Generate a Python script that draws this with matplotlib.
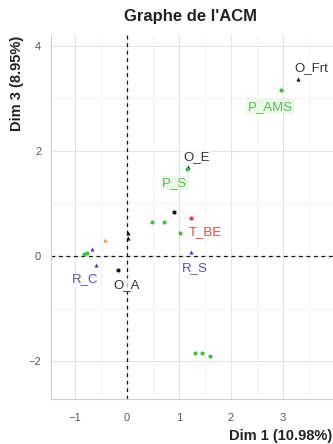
import matplotlib
matplotlib.use("Agg")
import matplotlib.pyplot as plt

plt.rcParams['font.family'] = ['Liberation Sans', 'DejaVu Sans']

# Category coordinates on dimensions 1 and 3
dim1 = [3.29, 2.96, 1.17, 1.15, 0.90, 1.23, 1.02, 0.48, 0.71, 1.23, 0.02, 0.02,
        -0.42, -0.83, -0.77, -0.67, -0.60, -0.17, 1.31, 1.44, 1.60]
dim3 = [3.37, 3.16, 1.70, 1.66, 0.84, 0.72, 0.44, 0.65, 0.65, 0.08, 0.44, 0.34,
        0.30, 0.04, 0.06, 0.13, -0.17, -0.27, -1.85, -1.85, -1.90]
groups = ['O', 'P', 'O', 'P', 'O', 'T', 'P', 'P', 'P', 'R', 'O', 'O',
          'T', 'P', 'P', 'R', 'R', 'O', 'P', 'P', 'P']
shapes = ['^', 'o', '^', 'o', 'o', 'o', 'o', 'o', 'o', '^', '^', '^',
          '^', 'o', 'o', '^', '^', 'o', 'o', 'o', 'o']
labels = ['O_Frt', 'P_AMS', 'O_E', 'P_S', '', 'T_BE', '', '', '', 'R_S', '', '',
          '', '', '', '', 'R_C', 'O_A', '', '', '']
label_x = [3.54, 2.75, 1.33, 0.92, 0, 1.50, 0, 0, 0, 1.31, 0, 0,
           0, 0, 0, 0, -0.81, 0.00, 0, 0, 0]
label_y = [3.58, 2.84, 1.89, 1.39, 0, 0.46, 0, 0, 0, -0.23, 0, 0,
           0, 0, 0, 0, -0.44, -0.55, 0, 0, 0]

point_colors = {'O': '#111111', 'P': '#3cc13c', 'T': '#e23b3b', 'R': '#4040c8'}
text_colors = {'O': '#333333', 'P': '#4cc24c', 'T': '#e8474a', 'R': '#5050c8'}
fills = {'O': 'white', 'P': '#e4f7e0', 'T': 'white', 'R': 'white'}
extra_color = {12: '#e8903a'}

fig = plt.figure(figsize=(3.33, 4.44), dpi=100)
ax = fig.add_axes([0.153, 0.101, 0.847, 0.820])

ax.set_xlim(-1.46, 3.96)
ax.set_ylim(-2.72, 4.2)

ax.set_xticks([-1, 0, 1, 2, 3])
ax.set_yticks([-2, 0, 2, 4])
ax.set_xticks([-0.5, 0.5, 1.5, 2.5, 3.5], minor=True)
ax.set_yticks([-1, 1, 3], minor=True)
ax.grid(which='major', color='#e4e4e4', linewidth=0.8)
ax.grid(which='minor', color='#f0f0f0', linewidth=0.6)
ax.set_axisbelow(True)
ax.tick_params(which='both', length=0, labelsize=8, labelcolor='#5a5a5a')
ax.tick_params(axis='x', pad=10)
ax.tick_params(axis='y', pad=7)
for side in ['top', 'right']:
    ax.spines[side].set_visible(False)
for side in ['left', 'bottom']:
    ax.spines[side].set_color('#cccccc')
    ax.spines[side].set_linewidth(0.8)

ax.axvline(0, color='#111111', linestyle=(0, (3, 3)), linewidth=0.9)
ax.axhline(0, color='#111111', linestyle=(0, (3, 3)), linewidth=0.9)

for i, (x, y, g, m) in enumerate(zip(dim1, dim3, groups, shapes)):
    c = extra_color.get(i, point_colors[g])
    ax.scatter([x], [y], marker=m, s=9, color=c, linewidths=0, zorder=3)

for i, (lab, lx, ly, g) in enumerate(zip(labels, label_x, label_y, groups)):
    if lab:
        ax.text(lx, ly, lab, color=text_colors[g], fontsize=9.5,
                ha='center', va='center', zorder=4,
                bbox=dict(boxstyle='square,pad=0.1', fc=fills[g], ec='none', alpha=0.7))

fig.text(0.573, 0.962, "Graphe de l'ACM", ha='center', va='center',
         fontsize=12, fontweight='bold', color='#222222')
fig.text(0.05, 0.813, "Dim 3 (8.95%)", rotation=90, ha='center', va='center',
         fontsize=10.5, fontweight='bold', color='#222222')
fig.text(0.997, 0.017, "Dim 1 (10.98%)", ha='right', va='center',
         fontsize=10.5, fontweight='bold', color='#222222')

fig.savefig("out.png", dpi=100)
